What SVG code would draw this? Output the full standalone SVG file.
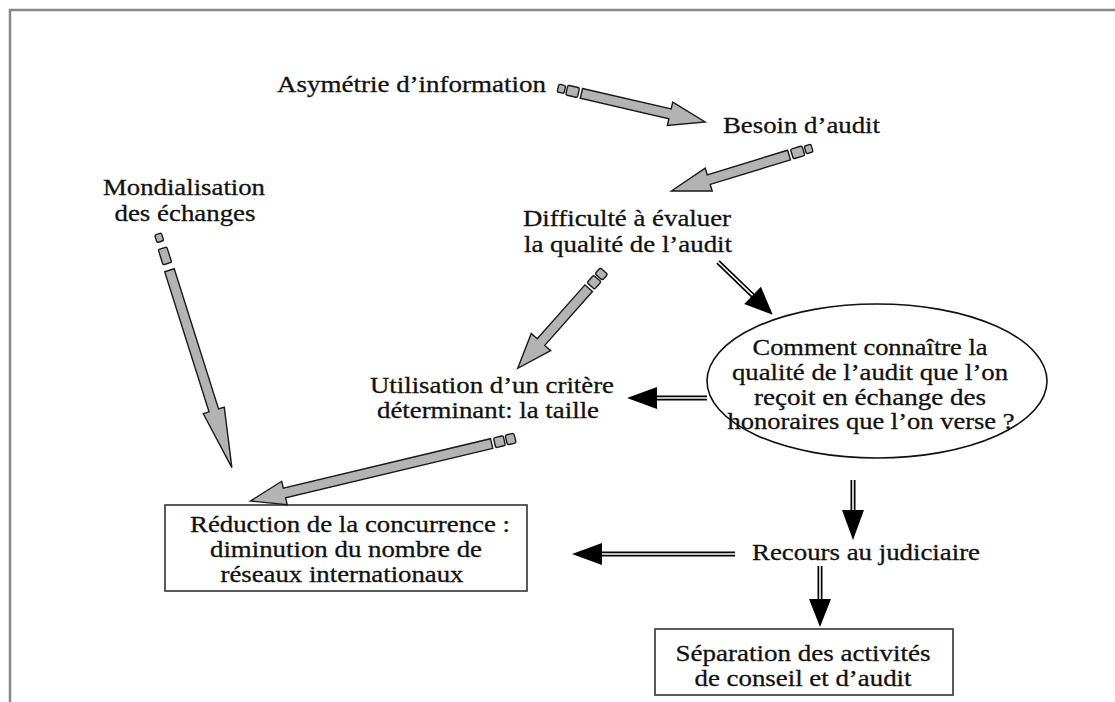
<svg xmlns="http://www.w3.org/2000/svg" width="1115" height="702" viewBox="0 0 1115 702" font-family="'Liberation Serif', 'DejaVu Serif', serif">
<defs>
<style>
text{font-family:'Liberation Serif','DejaVu Serif',serif;fill:#111;stroke:#111;stroke-width:0.3;font-size:24px}
.c{text-anchor:middle}
.g{fill:#b3b3b3;stroke:#1a1a1a;stroke-width:1.4;stroke-linejoin:miter}
.sq{fill:#b3b3b3;stroke:#1a1a1a;stroke-width:1.4}
.d1{stroke:#000;stroke-width:5;fill:none}
.d2{stroke:#fff;stroke-width:1.6;fill:none}
.hd{fill:#000}
.box{fill:#fff;stroke:#333;stroke-width:1.6}
</style>
</defs>
<rect x="0" y="0" width="1115" height="702" fill="#fff"/>
<path d="M10 702 V10 H1115" fill="none" stroke="#888" stroke-width="2.5"/>

<g id="reduction">
  <rect class="box" x="165" y="505" width="362" height="86"/>
  <text class="c" x="350" y="532" textLength="320" lengthAdjust="spacingAndGlyphs">Réduction de la concurrence :</text>
  <text class="c" x="346" y="557" textLength="272" lengthAdjust="spacingAndGlyphs">diminution du nombre de</text>
  <text class="c" x="342" y="582" textLength="243" lengthAdjust="spacingAndGlyphs">réseaux internationaux</text>
</g>
<g id="separation">
  <rect class="box" x="655" y="629" width="298" height="66"/>
  <text class="c" x="803" y="661" textLength="255" lengthAdjust="spacingAndGlyphs">Séparation des activités</text>
  <text class="c" x="803" y="686" textLength="217" lengthAdjust="spacingAndGlyphs">de conseil et d’audit</text>
</g>

<g id="connectors">
  <g transform="translate(558,88) rotate(13)">
    <rect class="sq" x="0" y="-4" width="7" height="8" rx="1.5"/>
    <rect class="sq" x="9" y="-5" width="12" height="10" rx="1.5"/>
    <polygon class="g" points="24,-5 115,-5 115,-12 151,0 115,12 115,5 24,5"/>
  </g>
  <g transform="translate(812,148) rotate(163)">
    <rect class="sq" x="0" y="-4" width="7" height="8" rx="1.5"/>
    <rect class="sq" x="9" y="-5" width="12" height="10" rx="1.5"/>
    <polygon class="g" points="24,-5 108,-5 108,-12 147,0 108,12 108,5 24,5"/>
  </g>
  <g transform="translate(158,234) rotate(72.45)">
    <rect class="sq" x="0" y="-3.5" width="8" height="7" rx="1.5"/>
    <rect class="sq" x="15" y="-4.5" width="16" height="9" rx="1.5"/>
    <polygon class="g" points="38,-5 185,-5 185,-11 245,0 185,11 185,5 38,5"/>
  </g>
  <g transform="translate(604,271) rotate(131.56)">
    <rect class="sq" x="0" y="-5" width="8" height="10" rx="2"/>
    <rect class="sq" x="10" y="-5" width="10" height="10" rx="1.5"/>
    <polygon class="g" points="23,-5 95,-5 95,-13 130,0 95,13 95,5 23,5"/>
  </g>
  <g transform="translate(515,438) rotate(166.6)">
    <rect class="sq" x="0" y="-5" width="9" height="10" rx="2"/>
    <rect class="sq" x="11" y="-5" width="10" height="10" rx="1.5"/>
    <polygon class="g" points="24,-5 237,-5 237,-12 272,0 237,12 237,5 24,5"/>
  </g>

  <g transform="translate(718,262) rotate(43.94)">
    <line class="d1" x1="0" y1="0" x2="50" y2="0"/>
    <line class="d2" x1="0" y1="0" x2="50" y2="0"/>
    <polygon class="hd" points="48,-12 76,0 48,12"/>
  </g>
  <g transform="translate(707,398) rotate(180)">
    <line class="d1" x1="0" y1="0" x2="52" y2="0"/>
    <line class="d2" x1="0" y1="0" x2="52" y2="0"/>
    <polygon class="hd" points="50,-11 80,0 50,11"/>
  </g>
  <g transform="translate(853,480) rotate(90)">
    <line class="d1" x1="0" y1="0" x2="32" y2="0"/>
    <line class="d2" x1="0" y1="0" x2="32" y2="0"/>
    <polygon class="hd" points="30,-11 60,0 30,11"/>
  </g>
  <g transform="translate(735,554) rotate(180)">
    <line class="d1" x1="0" y1="0" x2="135" y2="0"/>
    <line class="d2" x1="0" y1="0" x2="135" y2="0"/>
    <polygon class="hd" points="133,-11 163,0 133,11"/>
  </g>
  <g transform="translate(820,566) rotate(90)">
    <line class="d1" x1="0" y1="0" x2="35" y2="0"/>
    <line class="d2" x1="0" y1="0" x2="35" y2="0"/>
    <polygon class="hd" points="33,-11 61,0 33,11"/>
  </g>
</g>

<g id="asymetrie"><text x="277" y="92" textLength="269" lengthAdjust="spacingAndGlyphs">Asymétrie d’information</text></g>
<g id="besoin"><text x="723" y="133" textLength="157" lengthAdjust="spacingAndGlyphs">Besoin d’audit</text></g>
<g id="mondialisation">
  <text class="c" x="184" y="195" textLength="162" lengthAdjust="spacingAndGlyphs">Mondialisation</text>
  <text class="c" x="185" y="221" textLength="141" lengthAdjust="spacingAndGlyphs">des échanges</text>
</g>
<g id="difficulte">
  <text class="c" x="627" y="226" textLength="208" lengthAdjust="spacingAndGlyphs">Difficulté à évaluer</text>
  <text class="c" x="628" y="252" textLength="208" lengthAdjust="spacingAndGlyphs">la qualité de l’audit</text>
</g>
<g id="question">
  <ellipse cx="877" cy="381" rx="170" ry="77" fill="none" stroke="#111" stroke-width="1.6"/>
  <text class="c" x="870" y="355" textLength="235" lengthAdjust="spacingAndGlyphs">Comment connaître la</text>
  <text class="c" x="870" y="380" textLength="276" lengthAdjust="spacingAndGlyphs">qualité de l’audit que l’on</text>
  <text class="c" x="870" y="405" textLength="232" lengthAdjust="spacingAndGlyphs">reçoit en échange des</text>
  <text class="c" x="871" y="429" textLength="287" lengthAdjust="spacingAndGlyphs">honoraires que l’on verse ?</text>
</g>
<g id="utilisation">
  <text class="c" x="492" y="393" textLength="244" lengthAdjust="spacingAndGlyphs">Utilisation d’un critère</text>
  <text class="c" x="488" y="418" textLength="222" lengthAdjust="spacingAndGlyphs">déterminant: la taille</text>
</g>
<g id="recours"><text x="752" y="560" textLength="228" lengthAdjust="spacingAndGlyphs">Recours au judiciaire</text></g>
</svg>
